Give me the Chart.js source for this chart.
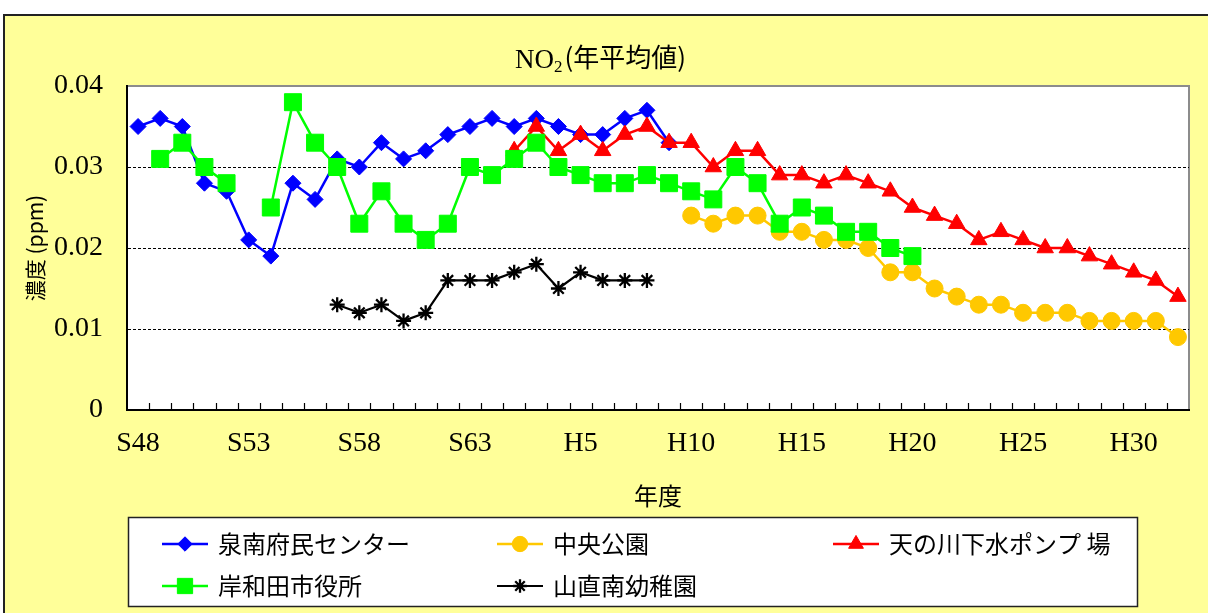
<!DOCTYPE html>
<html><head><meta charset="utf-8">
<script src="https://cdn.jsdelivr.net/npm/chart.js@4.4.1/dist/chart.umd.min.js"></script>
<style>
html,body{margin:0;padding:0;background:#fff;overflow:hidden;width:1208px;height:613px}
#frame{position:absolute;left:3px;top:14px;width:1230px;height:630px;background:#FFFF99;border-top:2px solid #222;border-left:2px solid #222;box-sizing:border-box}
#wrap{position:absolute;left:0;top:0;width:1208px;height:613px}
</style></head><body>
<div id="frame"></div>
<div id="wrap"><canvas id="c" width="1208" height="613"></canvas></div>
<script>
// ---- data ----
const years = ['S48','S49','S50','S51','S52','S53','S54','S55','S56','S57','S58','S59','S60','S61','S62','S63',
  'H1','H2','H3','H4','H5','H6','H7','H8','H9','H10','H11','H12','H13','H14','H15','H16','H17','H18','H19','H20',
  'H21','H22','H23','H24','H25','H26','H27','H28','H29','H30','H31','H32'];
const yTicks = [0, 0.01, 0.02, 0.03, 0.04];
const senanFumin = [0.035,0.036,0.035,0.028,0.027,0.021,0.019,0.028,0.026,0.031,0.030,0.033,0.031,0.032,0.034,0.035,
  0.036,0.035,0.036,0.035,0.034,0.034,0.036,0.037,0.033,null,null,null,null,null,null,null,null,null,null,null,
  null,null,null,null,null,null,null,null,null,null,null,null];
const chuoKoen = [null,null,null,null,null,null,null,null,null,null,null,null,null,null,null,null,
  null,null,null,null,null,null,null,null,null,0.024,0.023,0.024,0.024,0.022,0.022,0.021,0.021,0.020,0.017,0.017,
  0.015,0.014,0.013,0.013,0.012,0.012,0.012,0.011,0.011,0.011,0.011,0.009];
const amanogawa = [null,null,null,null,null,null,null,null,null,null,null,null,null,null,null,null,
  null,0.032,0.035,0.032,0.034,0.032,0.034,0.035,0.033,0.033,0.030,0.032,0.032,0.029,0.029,0.028,0.029,0.028,0.027,0.025,
  0.024,0.023,0.021,0.022,0.021,0.020,0.020,0.019,0.018,0.017,0.016,0.014];
const kishiwadaCity = [null,0.031,0.033,0.030,0.028,null,0.025,0.038,0.033,0.030,0.023,0.027,0.023,0.021,0.023,0.030,
  0.029,0.031,0.033,0.030,0.029,0.028,0.028,0.029,0.028,0.027,0.026,0.030,0.028,0.023,0.025,0.024,0.022,0.022,0.020,0.019,
  null,null,null,null,null,null,null,null,null,null,null,null];
const yamadaiMinami = [null,null,null,null,null,null,null,null,null,0.013,0.012,0.013,0.011,0.012,0.016,0.016,
  0.016,0.017,0.018,0.015,0.017,0.016,0.016,0.016,null,null,null,null,null,null,null,null,null,null,null,null,
  null,null,null,null,null,null,null,null,null,null,null,null];
const seriesNames = ['泉南府民センター','中央公園','天の川下水ポンプ 場','岸和田市役所','山直南幼稚園'];

const SERIF = "'Liberation Serif','DejaVu Serif','Noto Sans CJK JP',serif";
const JP = "'Noto Sans CJK JP','Liberation Serif',sans-serif";

function ds(label, data, color, style, radius, order, extra) {
  return Object.assign({
    label, data, borderColor: color, backgroundColor: color,
    pointBackgroundColor: color, pointBorderColor: color,
    pointStyle: style, pointRadius: radius, pointHoverRadius: radius,
    pointBorderWidth: 1, borderWidth: 2.5, spanGaps: false, tension: 0, order
  }, extra || {});
}

const datasets = [
  ds(seriesNames[0], senanFumin, '#0000FF', 'rectRot', 8, 5),
  ds(seriesNames[1], chuoKoen, '#FFC800', 'circle', 8.5, 4),
  ds(seriesNames[2], amanogawa, '#FF0000', 'triangle', 9.5, 3),
  ds(seriesNames[3], kishiwadaCity, '#00FF00', 'rect', 12, 2),
  ds(seriesNames[4], yamadaiMinami, '#000000', 'star', 7.5, 1, {pointBorderWidth: 2.3, borderWidth: 2.2})
];

const framePlugin = {
  id: 'frame',
  beforeDraw(chart) {
    const {ctx, chartArea: a} = chart;
    ctx.save();
    ctx.fillStyle = '#FFFFFF';
    ctx.fillRect(a.left, a.top, a.right - a.left, a.bottom - a.top);
    ctx.strokeStyle = '#8c8c8c'; ctx.lineWidth = 2;
    ctx.beginPath(); ctx.moveTo(a.left, a.top); ctx.lineTo(a.right, a.top); ctx.lineTo(a.right, a.bottom); ctx.stroke();
    ctx.restore();
  },
  afterDraw(chart) {
    const {ctx, chartArea: a} = chart;
    const x = chart.scales.x;
    const step = x.getPixelForValue(1) - x.getPixelForValue(0);
    ctx.save();
    ctx.strokeStyle = '#000'; ctx.lineWidth = 1.2;
    for (let i = 1; i < years.length; i++) {
      const px = Math.round(x.getPixelForValue(i) - step / 2) + 0.5;
      ctx.beginPath(); ctx.moveTo(px, a.bottom); ctx.lineTo(px, a.bottom - 7); ctx.stroke();
    }
    // chart title
    ctx.fillStyle = '#000';
    ctx.textBaseline = 'alphabetic';
    let tx = 515, ty = 68;
    ctx.font = '27px ' + SERIF; ctx.fillText('NO', tx, ty); tx += ctx.measureText('NO').width;
    ctx.font = '17px ' + SERIF; ctx.fillText('2', tx, ty + 4); tx += ctx.measureText('2').width + 2;
    ctx.font = '26px ' + JP; ctx.fillText('(年平均値)', tx, ty - 1);
    // legend
    const L = {x: 128, y: 517, w: 1009, h: 89};
    ctx.fillStyle = '#fff'; ctx.fillRect(L.x, L.y, L.w, L.h);
    ctx.strokeStyle = '#222'; ctx.lineWidth = 1.5; ctx.strokeRect(L.x + 0.5, L.y + 0.5, L.w, L.h);
    const slots = [[162, 544], [497, 544], [833, 544], [162, 586], [497, 586]];
    [0, 1, 2, 3, 4].forEach((di, k) => {
      const d = chart.data.datasets[di];
      const [sx, sy] = slots[k];
      ctx.strokeStyle = d.borderColor; ctx.lineWidth = d.borderWidth;
      ctx.beginPath(); ctx.moveTo(sx, sy); ctx.lineTo(sx + 46, sy); ctx.stroke();
      ctx.fillStyle = d.pointBackgroundColor; ctx.strokeStyle = d.pointBorderColor;
      ctx.lineWidth = d.pointBorderWidth;
      Chart.helpers.drawPoint(ctx, {pointStyle: d.pointStyle, radius: d.pointRadius * 0.9, rotation: 0, borderWidth: d.pointBorderWidth}, sx + 23, sy);
      ctx.fillStyle = '#000'; ctx.font = '24px ' + JP; ctx.textBaseline = 'middle';
      ctx.fillText(d.label, sx + 56, sy);
    });
    ctx.restore();
  }
};

new Chart(document.getElementById('c'), {
  type: 'line',
  data: {labels: years, datasets},
  options: {
    responsive: false, animation: false,
    layout: {padding: {left: 0, right: 19, top: 86, bottom: 0}},
    plugins: {legend: {display: false}, title: {display: false}, tooltip: {enabled: false}},
    elements: {line: {borderJoinStyle: 'round'}},
    scales: {
      x: {
        type: 'category', offset: true,
        grid: {display: false, drawTicks: false},
        border: {display: true, color: '#000', width: 2},
        ticks: {autoSkip: false, maxRotation: 0, minRotation: 0, padding: 17, color: '#000',
          font: {family: SERIF, size: 28},
          callback: (v, i) => (i % 5 === 0 ? years[i] : '')},
        title: {display: true, text: '年度', color: '#000', font: {family: JP, size: 24}, padding: {top: 0, bottom: 103}},
        afterFit: s => { s.height = 203; }
      },
      y: {
        min: 0, max: 0.04,
        afterBuildTicks: s => { s.ticks = yTicks.map(v => ({value: v})); },
        grid: {drawTicks: false, lineWidth: 1,
          color: c => (c.tick && (c.tick.value === 0 || c.tick.value === 0.04) ? 'rgba(0,0,0,0)' : '#000')},
        border: {display: true, color: '#000', width: 2, dash: [3, 2]},
        ticks: {padding: 24, color: '#000', font: {family: SERIF, size: 28},
          callback: v => (v === 0 ? '0' : v.toFixed(2))},
        title: {display: true, text: '濃度 (ppm)', color: '#000', font: {family: JP, size: 21}, padding: {top: 22, bottom: 0}},
        afterFit: s => { s.width = 127; }
      }
    }
  },
  plugins: [framePlugin]
});
</script>
</body></html>
